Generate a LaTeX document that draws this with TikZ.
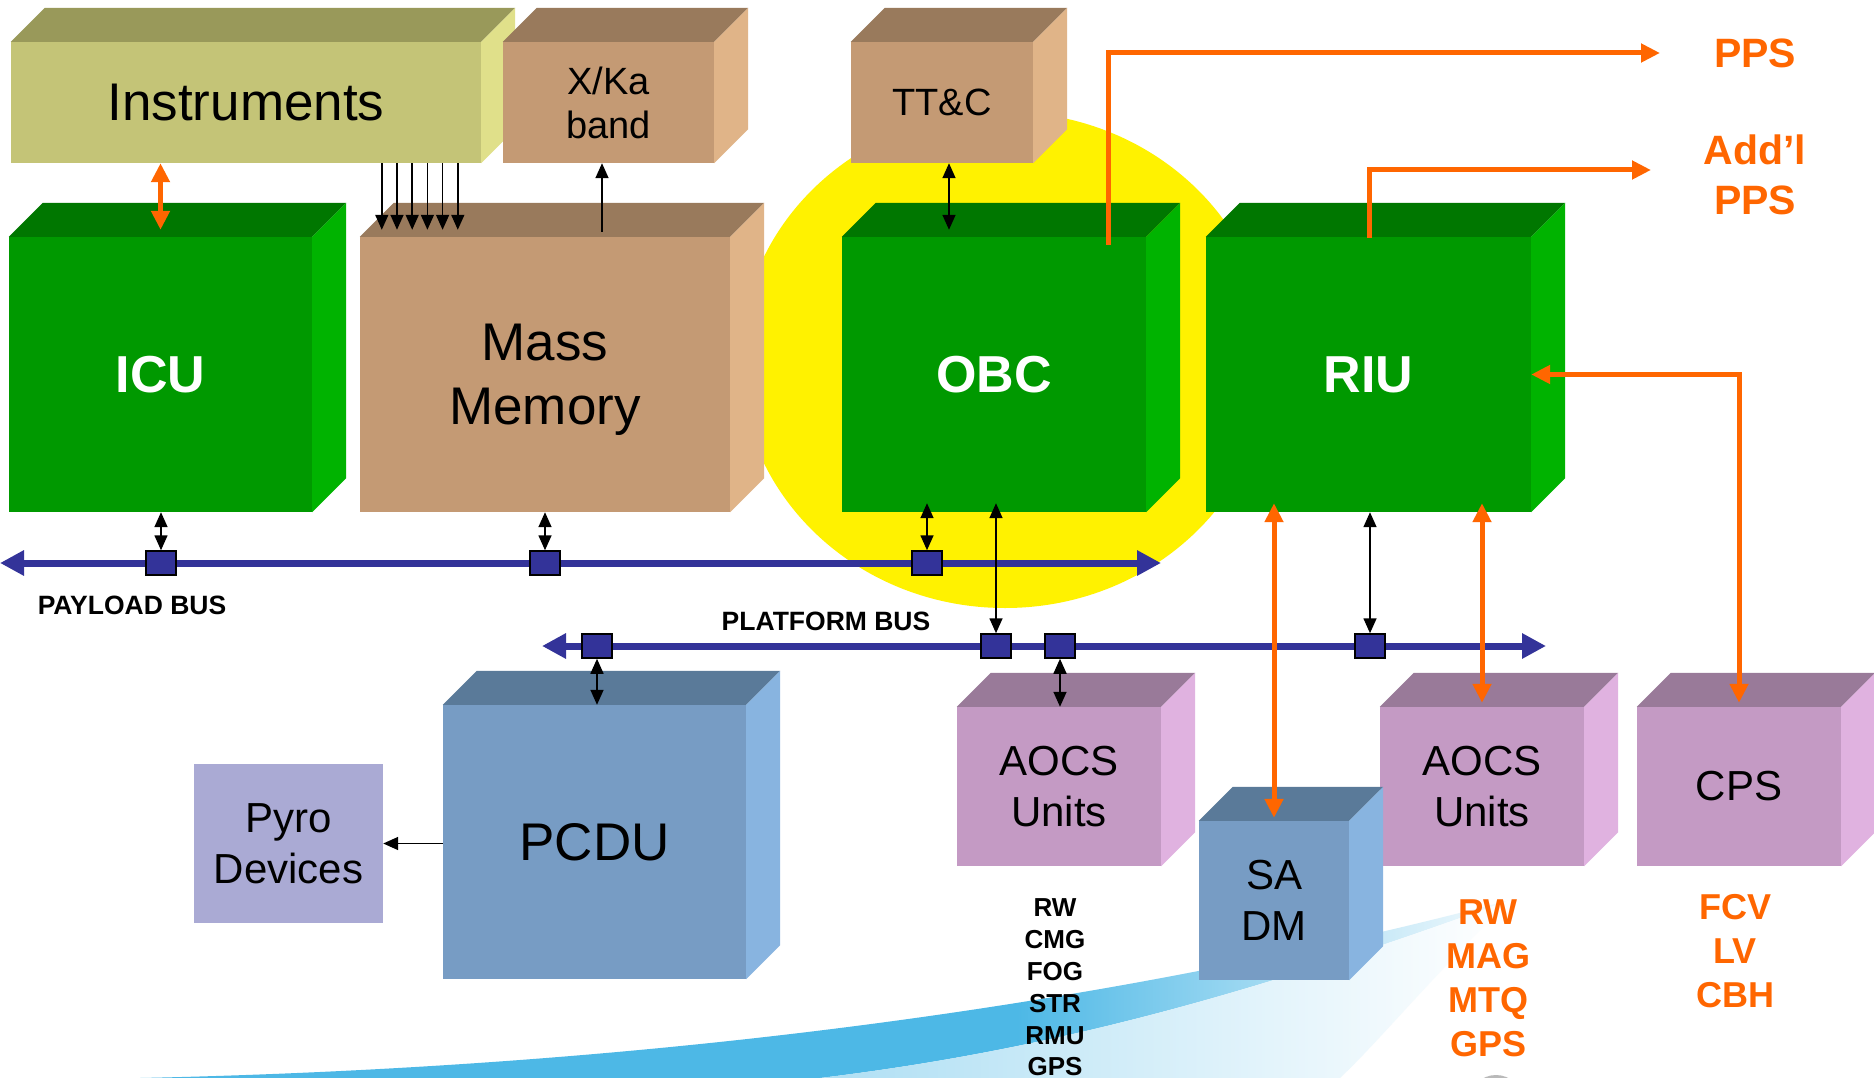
\documentclass[tikz,border=0pt]{standalone}
\usepackage{fontspec}
\setmainfont{Liberation Sans}
\usetikzlibrary{arrows.meta,positioning}

\definecolor{olvFront}{HTML}{C4C477}
\definecolor{olvTop}{HTML}{99995A}
\definecolor{olvSide}{HTML}{E0E08A}
\definecolor{tanFront}{HTML}{C49A74}
\definecolor{tanTop}{HTML}{997A5C}
\definecolor{tanSide}{HTML}{E0B488}
\definecolor{grnFront}{HTML}{009900}
\definecolor{grnTop}{HTML}{007700}
\definecolor{grnSide}{HTML}{00B300}
\definecolor{bluFront}{HTML}{779CC4}
\definecolor{bluTop}{HTML}{5A7A99}
\definecolor{bluSide}{HTML}{88B4E0}
\definecolor{pnkFront}{HTML}{C49AC4}
\definecolor{pnkTop}{HTML}{997A99}
\definecolor{pnkSide}{HTML}{E0B2E0}
\definecolor{pyro}{HTML}{AAAAD4}
\definecolor{busblue}{HTML}{333399}
\definecolor{orng}{HTML}{FF6600}
\definecolor{swoosh}{HTML}{4DB8E6}

\pgfdeclarehorizontalshading{swooshfade}{100bp}{color(0bp)=(swoosh); color(57bp)=(swoosh); color(76bp)=(white); color(100bp)=(white)}

\tikzset
{
    unit/.style     = {rectangle, inner sep=0pt, align=center},
    bigtxt/.style   = {font=\fontsize{53}{64}\selectfont},
    midtxt/.style   = {font=\fontsize{38}{44}\selectfont},
    smalltxt/.style = {font=\fontsize{42}{51}\selectfont},
    boldtxt/.style  = {font=\fontsize{52}{60}\selectfont\bfseries, text=white},
    port/.style     = {rectangle, draw=black, fill=busblue, line width=1.5pt, minimum width=30pt, minimum height=24pt, inner sep=0pt},
    bus/.style      = {busblue, line width=7pt, <->, >={Triangle[length=24pt,width=24pt]}},
    wire/.style     = {line width=1.6pt, >={Triangle[length=15pt,width=13pt]}},
    link/.style     = {orng, line width=5pt, >={Triangle[length=19pt,width=18pt]}},
    buslabel/.style = {font=\fontsize{26.5}{30}\selectfont\bfseries},
    listblk/.style  = {align=center, inner sep=0pt, font=\fontsize{26}{31.8}\selectfont\bfseries},
    listorg/.style  = {align=center, inner sep=0pt, text=orng, font=\fontsize{36}{44}\selectfont\bfseries},
    ppslabel/.style = {align=center, inner sep=0pt, text=orng, font=\fontsize{41}{50}\selectfont\bfseries}
}

\begin{document}
\begin{tikzpicture}[x=1pt, y=1pt]

   \newcommand\DX{34}
   \newcommand\DY{34}
   % box with its top and right faces
   \newcommand\cube[7]{%
      \node (#1) [unit, fill=#2Front, minimum width=#4, minimum height=#5, #6] at (#3) {#7};
      \fill[fill=#2Top]  (#1.north west) -- ++(\DX,\DY) -- ([shift={(\DX,\DY)}]#1.north east) -- (#1.north east) -- cycle;
      \fill[fill=#2Side] (#1.north east) -- ++(\DX,\DY) -- ([shift={(\DX,\DY)}]#1.south east) -- (#1.south east) -- cycle;
   }

   \fill[white] (0,0) rectangle (1874,-1078);
   \useasboundingbox (0,0) rectangle (1874,-1078);

   % background swoosh
   \shade[shading=swooshfade] (140,-1078) .. controls (700,-1066) and (1150,-995) .. (1510,-900)
        .. controls (1250,-995) and (1050,-1050) .. (820,-1078) -- cycle;
   \shade[left color=swoosh!45, right color=white] (820,-1078) .. controls (1050,-1050) and (1250,-995) .. (1510,-900)
        .. controls (1420,-990) and (1380,-1040) .. (1340,-1078) -- cycle;
   \fill[gray!55] (1496,-1102) circle (27);

   % highlight behind the OBC
   \fill[yellow] (1005,-360) ellipse [x radius=265, y radius=248];

   \cube{inst}{olv}{246,-102.5}{470}{121}{bigtxt}{Instruments}
   \cube{xka}{tan}{608.5,-102.5}{211}{121}{midtxt}{X/Ka\\band}
   \cube{ttc}{tan}{942,-102.5}{182}{121}{midtxt}{TT\&C}
   \cube{icu}{grn}{160.5,-374.5}{303}{275}{boldtxt}{ICU}
   \cube{mm}{tan}{545,-374.5}{370}{275}{bigtxt, text depth=0pt}{Mass\\Memory}
   \cube{obc}{grn}{994,-374.5}{304}{275}{boldtxt}{OBC}
   \cube{riu}{grn}{1368.5,-374.5}{325}{275}{boldtxt}{RIU}
   \cube{pcdu}{blu}{594.5,-842}{303}{274}{bigtxt}{PCDU}
   \cube{aocsl}{pnk}{1059,-786.5}{204}{159}{smalltxt}{AOCS\\Units}
   \cube{aocsr}{pnk}{1482,-786.5}{204}{159}{smalltxt}{AOCS\\Units}
   \cube{cps}{pnk}{1739,-786.5}{204}{159}{smalltxt}{CPS}
   \cube{sadm}{blu}{1274,-900.5}{150}{159}{smalltxt}{SA\\DM}
   \node (pyro) [unit, fill=pyro, minimum width=189, minimum height=159, smalltxt] at (288.5,-843.5) {Pyro\\Devices};

   % buses
   \coordinate (pl-w) at (0,-563);
   \coordinate (pl-e) at (1161,-563);
   \coordinate (pf-w) at (542,-646);
   \coordinate (pf-e) at (1546,-646);
   \draw[bus] (pl-w) -- (pl-e);
   \draw[bus] (pf-w) -- (pf-e);

   \node (pq1) [port] at (161,-563) {};
   \node (pq2) [port] at (545,-563) {};
   \node (pq3) [port] at (927,-563) {};
   \node (fq1) [port] at (597,-646) {};
   \node (fq2) [port] at (996,-646) {};
   \node (fq3) [port] at (1060,-646) {};
   \node (fq4) [port] at (1370,-646) {};

   \node (plbl) [buslabel] at (132,-605) {PAYLOAD BUS};
   \node (flbl) [buslabel] at (826,-621) {PLATFORM BUS};

   \path[wire]
      (icu.south -| pq1)        edge[<->] (pq1.north)
      (mm.south -| pq2)         edge[<->] (pq2.north)
      (obc.south -| pq3)        edge[<->, shorten <=-9pt] (pq3.north)
      (obc.south -| fq2)        edge[<->, shorten <=-9pt] (fq2.north)
      (riu.south -| fq4)        edge[<->] (fq4.north)
      (fq1.south)               edge[<->] (pcdu.north -| fq1)
      (fq3.south)               edge[<->] (aocsl.north -| fq3)
      (pcdu.west |- pyro.east)  edge[->]  (pyro.east);

   \draw[wire,<->,shorten >=7pt] ([xshift=7]ttc.south) -- ([xshift=7]ttc.south |- obc.north);
   \draw[wire,->] ([shift={(57,5)}]mm.north) -- ([xshift=57]mm.north |- xka.south);
   \foreach \i in {0,...,5}
      \draw[wire,->,shorten >=7pt] ([xshift=22+15.2*\i]mm.north west |- inst.south) -- ([xshift=22+15.2*\i]mm.north west);

   % pulse lines
   \node (pps)  [ppslabel] at (1755,-53)  {PPS};
   \node (addl) [ppslabel] at (1755,-175) {Add’l\\PPS};
   \coordinate (pps-in)  at (1660,-53);
   \coordinate (addl-in) at (1651,-170);

   \draw[link,->]  ([shift={(114,-8)}]obc.north) |- (pps-in);
   \draw[link,->]  ([shift={(0.5,-1)}]riu.north) |- (addl-in);
   \draw[link,<->] (inst.south -| icu.north) -- ([yshift=7]icu.north);
   \draw[link,<->,shorten <=-9pt] (riu.south -| sadm.north) -- ([yshift=3]sadm.north);
   \draw[link,<->,shorten <=-9pt] (riu.south -| aocsr.north) -- ([yshift=4]aocsr.north);
   \draw[link,<->] (riu.east) -| ([yshift=4]cps.north);

   \node (blist) [listblk] at (1055,-987.5) {RW\\CMG\\FOG\\STR\\RMU\\GPS};
   \node (olist) [listorg] at (1488,-978)   {RW\\MAG\\MTQ\\GPS};
   \node (flist) [listorg] at (1735,-951)   {FCV\\LV\\CBH};

\end{tikzpicture}
\end{document}
